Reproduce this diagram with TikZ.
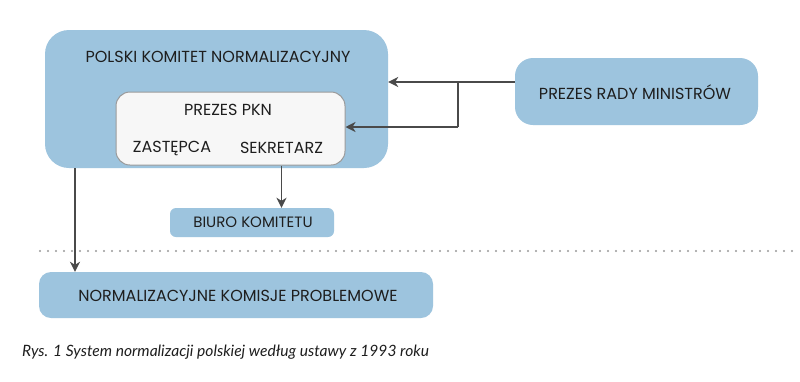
\documentclass[tikz,border=0pt]{standalone}
\usepackage{fontspec}
\setmainfont{Poppins}
\newfontfamily\capfont{Lato}
\usetikzlibrary{arrows.meta}
\definecolor{boxblue}{HTML}{9DC4DE}
\definecolor{innerfill}{HTML}{F7F7F7}
\definecolor{innerdraw}{HTML}{9A9A9A}
\definecolor{arrgray}{HTML}{4A4A4A}
\definecolor{txt}{HTML}{1E1E1E}
\tikzset{
  bluebox/.style={fill=boxblue, draw=none, inner sep=0pt},
  lbl/.style={text=txt, font=\fontsize{16}{18}\selectfont, inner sep=0pt},
  arr/.style={draw=arrgray, line width=1.8pt, -{Stealth[length=10pt,width=10pt,inset=3pt]}},
  conn/.style={draw=arrgray, line width=1.8pt},
}
\begin{document}
\begin{tikzpicture}[x=1pt,y=-1pt]
\useasboundingbox (0,0) rectangle (800,381);
\fill[white] (0,0) rectangle (800,381);
% boxes
\node[bluebox, rounded corners=24pt, minimum width=343pt, minimum height=138pt] (pkn) at (216.5,99) {};
\node[lbl] (pkntitle) at (218,57) {POLSKI KOMITET NORMALIZACYJNY};
\node[fill=innerfill, draw=innerdraw, line width=1pt, rounded corners=14pt, minimum width=229pt, minimum height=73pt, inner sep=0pt] (inner) at (230.5,128.5) {};
\node[lbl] (prezes) at (228,110) {PREZES PKN};
\node[lbl] (zast) at (172,148) {ZASTĘPCA};
\node[lbl] (sek) at (281.5,148) {SEKRETARZ};
\node[bluebox, rounded corners=18pt, minimum width=243pt, minimum height=67pt] (rady) at (636.5,91.5) {};
\node[lbl] (radytxt) at (635,92) {PREZES RADY MINISTRÓW};
\node[bluebox, rounded corners=6pt, minimum width=164pt, minimum height=29pt] (biuro) at (252,222.5) {};
\node[lbl, font=\fontsize{15}{17}\selectfont] (biurotxt) at (253,222.5) {BIURO KOMITETU};
\node[bluebox, rounded corners=12pt, minimum width=394pt, minimum height=46pt] (komisje) at (236,295) {};
\node[lbl] (komisjetxt) at (238,295.5) {NORMALIZACYJNE KOMISJE PROBLEMOWE};
% dotted separator
\coordinate (d1) at (40,251);
\coordinate (d2) at (798,251);
\draw[draw=gray!80, line width=2.2pt, line cap=round, dash pattern=on 0pt off 8pt] (d1) -- (d2);
% connectors
\coordinate (j1) at (458,82);
\coordinate (j2) at (458,127);
\coordinate (c1) at (75,0);
\draw[arr] (rady.west |- j1) -- (pkn.east |- j1);
\draw[conn] (j1) -- (j2);
\draw[arr] (j2) -- (inner.east |- j2);
\draw[arr] (pkn.south -| c1) -- (komisje.north -| c1);
\draw[arr] (inner.south -| sek) -- (biuro.north -| sek);
% caption
\node[anchor=west, inner sep=0pt, text=txt, font=\capfont\itshape\fontsize{15.6}{18}\selectfont] (caption) at (22,352) {Rys. 1 System normalizacji polskiej według ustawy z 1993 roku};
\end{tikzpicture}
\end{document}
